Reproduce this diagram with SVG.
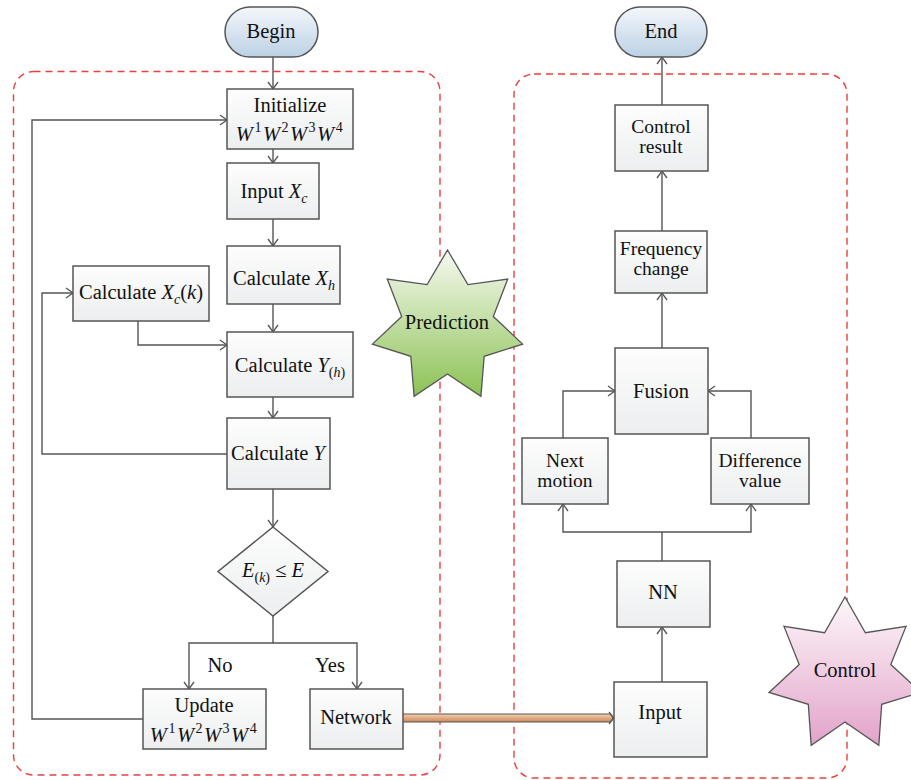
<svg xmlns="http://www.w3.org/2000/svg" width="911" height="780" viewBox="0 0 911 780">
<defs>
<linearGradient id="gBox" x1="0" y1="0" x2="0" y2="1"><stop offset="0" stop-color="#fdfdfd"/><stop offset="1" stop-color="#eceeef"/></linearGradient>
<linearGradient id="gPill" x1="0" y1="0" x2="0" y2="1"><stop offset="0" stop-color="#f3f7fb"/><stop offset="1" stop-color="#bcd1e5"/></linearGradient>
<linearGradient id="gGreen" x1="0" y1="0" x2="0" y2="1"><stop offset="0" stop-color="#f6f9f1"/><stop offset="1" stop-color="#8cc255"/></linearGradient>
<linearGradient id="gPink" x1="0" y1="0" x2="0" y2="1"><stop offset="0" stop-color="#fdf7fa"/><stop offset="1" stop-color="#e2a3c9"/></linearGradient>
<linearGradient id="gTan" x1="0" y1="0" x2="0" y2="1"><stop offset="0" stop-color="#f5d2b4"/><stop offset="0.5" stop-color="#e3aa80"/><stop offset="1" stop-color="#c98a5d"/></linearGradient>
<marker id="arr" markerUnits="userSpaceOnUse" markerWidth="12" markerHeight="12" refX="8" refY="5" orient="auto" overflow="visible">
<path d="M1,0 L8,5 L1,10" fill="none" stroke="#555" stroke-width="1.3"/>
</marker>
<style>
.box{fill:url(#gBox);stroke:#555;stroke-width:1.5}
.pill{fill:url(#gPill);stroke:#555;stroke-width:1.5}
.dash{fill:none;stroke:#e8403f;stroke-width:1.4;stroke-dasharray:7 5}
.con{fill:none;stroke:#555;stroke-width:1.4}
.arw{marker-end:url(#arr)}
text{font-size:20.5px;fill:#111;text-anchor:middle}
.it{font-style:italic}
.sm{font-size:14px}
.two{font-size:19.5px}
</style>
</defs>
<rect fill="#ffffff" x="0" y="0" width="911" height="780"/>

<rect class="dash" x="13.5" y="71.5" width="426.5" height="703.5" rx="20"/>
<rect class="dash" x="514" y="74" width="333" height="704" rx="20"/>

<g id="connectors">
<path class="con arw" d="M273,57 V89"/>
<path class="con arw" d="M273,149 V163"/>
<path class="con arw" d="M273,219 V246"/>
<path class="con arw" d="M273,304 V332"/>
<path class="con arw" d="M273,397 V418"/>
<path class="con arw" d="M273,489 V527"/>
<path class="con arw" d="M273,616 V643 H189 V689"/>
<path class="con arw" d="M273,643 H357 V689"/>
<path class="con arw" d="M138,321 V345 H227"/>
<path class="con arw" d="M227,454 H42 V293 H73"/>
<path class="con arw" d="M143,719 H32 V120 H227"/>
<path class="con arw" d="M662,682 V627"/>
<path class="con arw" d="M662,561 V532 H563 V504"/>
<path class="con arw" d="M662,532 H751 V504"/>
<path class="con arw" d="M563,438 V391 H615"/>
<path class="con arw" d="M751,438 V391 H708"/>
<path class="con arw" d="M662,348 V293"/>
<path class="con arw" d="M662,231 V171"/>
<path class="con arw" d="M662,105 V57"/>
<path d="M401,714 H610 L613,718 L610,722 H401 Z" fill="url(#gTan)" stroke="#555" stroke-width="1"/>
<path d="M609,712 L614,718 L609,724" fill="none" stroke="#555" stroke-width="1.2"/>
</g>

<g font-family="'Liberation Serif', 'DejaVu Serif', 'Times New Roman', serif">
<g id="begin"><rect class="pill" x="225" y="7" width="93" height="50" rx="25"/><text x="271" y="38">Begin</text></g>
<g id="initialize"><rect class="box" x="227" y="89" width="126" height="60"/><text x="290" y="112">Initialize</text>
<text x="290" y="141" font-size="23" letter-spacing="1.5"><tspan class="it">W</tspan><tspan class="sm" dy="-9">1</tspan><tspan class="it" dy="9">W</tspan><tspan class="sm" dy="-9">2</tspan><tspan class="it" dy="9">W</tspan><tspan class="sm" dy="-9">3</tspan><tspan class="it" dy="9">W</tspan><tspan class="sm" dy="-9">4</tspan></text></g>
<g id="input-xc"><rect class="box" x="227" y="163" width="92" height="56"/><text x="274" y="198">Input <tspan class="it">X</tspan><tspan class="it sm" dy="5">c</tspan></text></g>
<g id="calc-xh"><rect class="box" x="227" y="246" width="113" height="58"/><text x="284" y="285">Calculate <tspan class="it">X</tspan><tspan class="it sm" dy="5">h</tspan></text></g>
<g id="calc-xck"><rect class="box" x="73" y="266" width="136" height="55"/><text x="141" y="299">Calculate <tspan class="it">X</tspan><tspan class="it sm" dy="5">c</tspan><tspan dy="-5">(</tspan><tspan class="it">k</tspan>)</text></g>
<g id="calc-yh"><rect class="box" x="227" y="332" width="126" height="65"/><text x="290" y="372">Calculate <tspan class="it">Y</tspan><tspan class="sm" dy="5">(</tspan><tspan class="it sm">h</tspan><tspan class="sm">)</tspan></text></g>
<g id="calc-y"><rect class="box" x="227" y="418" width="103" height="71"/><text x="278" y="460">Calculate <tspan class="it">Y</tspan></text></g>
<g id="decision"><polygon class="box" points="273,527 328,571.5 273,616 218,571.5"/><text x="273" y="577"><tspan class="it">E</tspan><tspan class="sm" dy="5">(</tspan><tspan class="it sm">k</tspan><tspan class="sm">)</tspan><tspan dy="-5"> ≤ </tspan><tspan class="it">E</tspan></text></g>
<g id="labels"><text x="220" y="672">No</text><text x="330" y="672">Yes</text></g>
<g id="update"><rect class="box" x="143" y="689" width="123" height="60"/><text x="204" y="712">Update</text>
<text x="204" y="742" font-size="23" letter-spacing="1.5"><tspan class="it">W</tspan><tspan class="sm" dy="-9">1</tspan><tspan class="it" dy="9">W</tspan><tspan class="sm" dy="-9">2</tspan><tspan class="it" dy="9">W</tspan><tspan class="sm" dy="-9">3</tspan><tspan class="it" dy="9">W</tspan><tspan class="sm" dy="-9">4</tspan></text></g>
<g id="network"><rect class="box" x="310" y="689" width="93" height="60"/><text x="356" y="724">Network</text></g>

<g id="end"><rect class="pill" x="615" y="7" width="92" height="50" rx="25"/><text x="661" y="38">End</text></g>
<g id="control-result"><rect class="box" x="615" y="105" width="93" height="66"/><text class="two" x="661" y="133">Control</text><text class="two" x="661" y="153">result</text></g>
<g id="frequency-change"><rect class="box" x="615" y="231" width="92" height="62"/><text class="two" x="661" y="255">Frequency</text><text class="two" x="661" y="275">change</text></g>
<g id="fusion"><rect class="box" x="615" y="348" width="93" height="86"/><text x="661" y="398">Fusion</text></g>
<g id="next-motion"><rect class="box" x="522" y="438" width="86" height="66"/><text class="two" x="565" y="467">Next</text><text class="two" x="565" y="487">motion</text></g>
<g id="difference-value"><rect class="box" x="711" y="438" width="98" height="66"/><text class="two" x="760" y="467">Difference</text><text class="two" x="760" y="487">value</text></g>
<g id="nn"><rect class="box" x="617" y="561" width="93" height="66"/><text x="663" y="599">NN</text></g>
<g id="input"><rect class="box" x="614" y="682" width="93" height="75"/><text x="660" y="719">Input</text></g>

<g id="prediction"><polygon fill="url(#gGreen)" stroke="#555" stroke-width="1.3" points="447.5,250 467.9,284.6 507.7,279 493.3,316.5 522.6,344.1 484.2,356.3 480.9,396.4 447.5,374 414.1,396.4 410.8,356.3 372.4,344.1 401.7,316.5 387.3,279 427.1,284.6"/><text x="447" y="329">Prediction</text></g>
<g id="control"><polygon fill="url(#gPink)" stroke="#555" stroke-width="1.3" points="845,597 865.4,632.7 906,626.4 890.8,664.5 921,692.4 881.7,704.3 878.8,745.3 845,722 811.2,745.3 808.3,704.3 769,692.4 799.2,664.5 784,626.4 824.6,632.7"/><text x="845" y="677">Control</text></g>
</g>
</svg>
